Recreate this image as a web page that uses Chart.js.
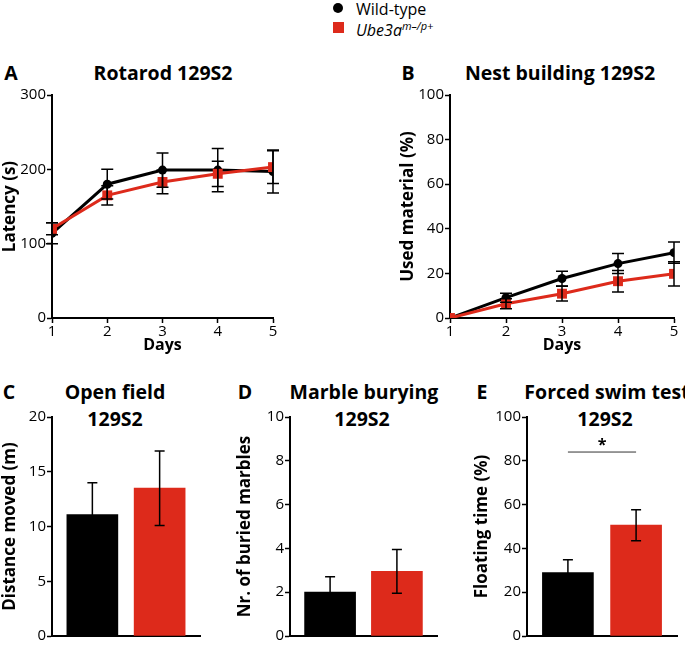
<!DOCTYPE html>
<html>
<head>
<meta charset="utf-8">
<script src="https://cdn.jsdelivr.net/npm/chart.js@4.4.1/dist/chart.umd.min.js"></script>
<style>
body { margin: 0; background: #fff; width: 685px; height: 646px; position: relative; overflow: hidden; font-family: 'Open Sans', sans-serif; color: #000; }
canvas { position: absolute; }
.t { position: absolute; font-weight: bold; font-size: 19.5px; line-height: 1; white-space: nowrap; transform: translate(-50%, -50%); }
.leg { position: absolute; font-size: 16px; line-height: 1; white-space: nowrap; transform: translateY(-50%); }
.dot { position: absolute; width: 10px; height: 10px; border-radius: 50%; background: #000; }
.sq { position: absolute; width: 11px; height: 11px; background: #dd2a1b; }
sup { font-size: 11px; }
</style>
</head>
<body>
<div class="dot" style="left:333px;top:3px"></div>
<div class="leg" style="left:356px;top:9px">Wild-type</div>
<div class="sq" style="left:333px;top:22px"></div>
<div class="leg" style="left:356px;top:29px"><i>Ube3a<sup>m–/p+</sup></i></div>

<div class="t" style="left:11px;top:73px">A</div>
<div class="t" style="left:163px;top:73px">Rotarod 129S2</div>
<div class="t" style="left:408px;top:73px">B</div>
<div class="t" style="left:560px;top:73px">Nest building 129S2</div>
<div class="t" style="left:9px;top:392px">C</div>
<div class="t" style="left:115px;top:392px">Open field</div>
<div class="t" style="left:115px;top:419px">129S2</div>
<div class="t" style="left:245px;top:392px">D</div>
<div class="t" style="left:364px;top:392px">Marble burying</div>
<div class="t" style="left:362px;top:419px">129S2</div>
<div class="t" style="left:482px;top:392px">E</div>
<div class="t" style="left:607px;top:392px">Forced swim test</div>
<div class="t" style="left:605px;top:419px">129S2</div>

<canvas id="chartA" width="290" height="270" style="left:0px;top:85px"></canvas>
<canvas id="chartB" width="290" height="270" style="left:395px;top:85px"></canvas>
<canvas id="chartC" width="210" height="241" style="left:0px;top:405px"></canvas>
<canvas id="chartD" width="212" height="241" style="left:235px;top:405px"></canvas>
<canvas id="chartE" width="215" height="241" style="left:470px;top:405px"></canvas>

<script>
// days on x axis
const days = [1, 2, 3, 4, 5];

// rotarod latency (s), mean and SEM
const rotaWT = [114, 180, 199, 199, 197];
const rotaWTErr = [14, 20, 23, 29, 29];
const rotaMut = [120, 165, 183, 194, 203];
const rotaMutErr = [8, 13, 16, 17, 22];

// nest building, used material (%)
const nestWT = [0, 9.1, 17.7, 24.4, 29.3];
const nestWTErr = [0, 2, 3.3, 4.5, 4.8];
const nestMut = [0, 6.4, 10.9, 16.5, 19.8];
const nestMutErr = [0, 2.2, 3.3, 4.8, 5.4];

// bar panels: [wild-type, Ube3a m-/p+]
const groups = ['Wild-type', 'Ube3a m–/p+'];
const openField = [11.1, 13.5];
const openFieldErr = [2.9, 3.4];
const marbles = [2.0, 2.95];
const marblesErr = [0.7, 1.0];
const swim = [29, 50.6];
const swimErr = [5.8, 7.1];
const swimSig = 84;

const BLACK = '#000000';
const RED = '#dd2a1b';

Chart.defaults.font.family = "'Open Sans', sans-serif";
Chart.defaults.color = '#000';
Chart.defaults.animation = false;

function pts(xs, ys) {
	return ys.map(function (v, i) { return { x: xs[i], y: v }; });
}

// draws the mean +/- error whiskers through the y scale
const errorBars = {
	id: 'errorBars',
	afterDatasetsDraw(chart, args, opts) {
		const ctx = chart.ctx;
		const y = chart.scales.y;
		ctx.save();
		ctx.strokeStyle = '#000';
		ctx.lineWidth = opts.width || 1.5;
		chart.data.datasets.forEach(function (ds, i) {
			if (!ds.errors) return;
			chart.getDatasetMeta(i).data.forEach(function (el, j) {
				const e = ds.errors[j];
				if (!e) return;
				const v = ds.data[j].y;
				const top = y.getPixelForValue(v + e);
				const bot = y.getPixelForValue(v - e);
				const cap = opts.cap || 5;
				ctx.beginPath();
				ctx.moveTo(el.x, top); ctx.lineTo(el.x, bot);
				ctx.moveTo(el.x - cap, top); ctx.lineTo(el.x + cap, top);
				ctx.moveTo(el.x - cap, bot); ctx.lineTo(el.x + cap, bot);
				ctx.stroke();
			});
		});
		ctx.restore();
	}
};

// significance bracket for the swim test
const sigLine = {
	id: 'sigLine',
	afterDatasetsDraw(chart, args, opts) {
		if (!opts.show) return;
		const ctx = chart.ctx;
		const x = chart.scales.x, y = chart.scales.y;
		const py = y.getPixelForValue(opts.value);
		ctx.save();
		ctx.strokeStyle = '#333';
		ctx.lineWidth = 1;
		ctx.beginPath();
		ctx.moveTo(x.getPixelForValue(0), py);
		ctx.lineTo(x.getPixelForValue(1), py);
		ctx.stroke();
		ctx.fillStyle = '#000';
		ctx.font = "bold 16px 'Open Sans'";
		ctx.textAlign = 'center';
		ctx.textBaseline = 'middle';
		ctx.fillText('*', (x.getPixelForValue(0) + x.getPixelForValue(1)) / 2, py - 7);
		ctx.restore();
	}
};

function yScale(max, step, title, w, tpad) {
	return {
		min: 0,
		max: max,
		ticks: { stepSize: step, padding: 1, font: { size: 15 }, color: '#000' },
		grid: { display: true, drawOnChartArea: false, drawTicks: true, tickLength: 5, tickWidth: 1.5, tickColor: '#000' },
		border: { display: true, color: '#000', width: 2 },
		title: { display: true, text: title, color: '#000', font: { size: 17, weight: 'bold' }, padding: { top: tpad, bottom: 0 } },
		afterFit: function (s) { s.width = w; }
	};
}

function lineChart(id, wt, wtErr, mut, mutErr, yMax, yStep, yTitle, yW, tpad, padRight) {
	return new Chart(document.getElementById(id), {
		type: 'line',
		data: {
			datasets: [{
				label: 'Ube3a m–/p+',
				data: pts(days, mut),
				errors: mutErr,
				borderColor: RED,
				backgroundColor: RED,
				borderWidth: 3,
				pointStyle: 'rect',
				pointRadius: 7,
				pointBorderWidth: 0,
				order: 0
			}, {
				label: 'Wild-type',
				data: pts(days, wt),
				errors: wtErr,
				borderColor: BLACK,
				backgroundColor: BLACK,
				borderWidth: 3,
				pointStyle: 'circle',
				pointRadius: 4.5,
				pointBorderWidth: 0,
				order: 1
			}]
		},
		options: {
			responsive: false,
			layout: { padding: { top: 10, right: padRight, left: 0, bottom: 0 } },
			plugins: { legend: { display: false }, tooltip: { enabled: false }, errorBars: { cap: 6, width: 1.5 } },
			scales: {
				x: {
					type: 'linear', min: 1, max: 5,
					ticks: { stepSize: 1, padding: 0, font: { size: 15 }, color: '#000' },
					grid: { display: true, drawOnChartArea: false, drawTicks: true, tickLength: 5, tickWidth: 1.5, tickColor: '#000' },
					border: { display: true, color: '#000', width: 2 },
					title: { display: true, text: 'Days', color: '#000', font: { size: 16, weight: 'bold' }, padding: { top: 0, bottom: 0 } },
					afterFit: function (s) { s.height = 37; }
				},
				y: yScale(yMax, yStep, yTitle, yW, tpad)
			}
		},
		plugins: [errorBars]
	});
}

function barChart(id, vals, errs, yMax, yStep, yTitle, yW, tpad, padRight, sig) {
	return new Chart(document.getElementById(id), {
		type: 'bar',
		data: {
			labels: groups,
			datasets: [{
				data: pts([0, 1], vals),
				errors: errs,
				backgroundColor: [BLACK, RED],
				borderWidth: 0,
				barThickness: 51
			}]
		},
		options: {
			responsive: false,
			layout: { padding: { top: 12, right: padRight, left: 0, bottom: 0 } },
			plugins: {
				legend: { display: false }, tooltip: { enabled: false },
				errorBars: { cap: 5, width: 1.5 },
				sigLine: { show: sig != null, value: sig }
			},
			scales: {
				x: {
					type: 'linear', min: -0.6, max: 1.6, offset: false,
					ticks: { display: false },
					grid: { display: false },
					border: { display: true, color: '#000', width: 2 },
					afterFit: function (s) { s.height = 6; }
				},
				y: yScale(yMax, yStep, yTitle, yW, tpad)
			}
		},
		plugins: [errorBars, sigLine]
	});
}

lineChart('chartA', rotaWT, rotaWTErr, rotaMut, rotaMutErr, 300, 100, 'Latency (s)', 52, 0, 17);
lineChart('chartB', nestWT, nestWTErr, nestMut, nestMutErr, 100, 20, 'Used material (%)', 55, 3, 11);
barChart('chartC', openField, openFieldErr, 20, 5, 'Distance moved (m)', 52, 0, 10, null);
barChart('chartD', marbles, marblesErr, 10, 2, 'Nr. of buried marbles', 55, 0, 10, null);
barChart('chartE', swim, swimErr, 100, 20, 'Floating time (%)', 57, 2, 8, swimSig);
</script>
</body>
</html>
